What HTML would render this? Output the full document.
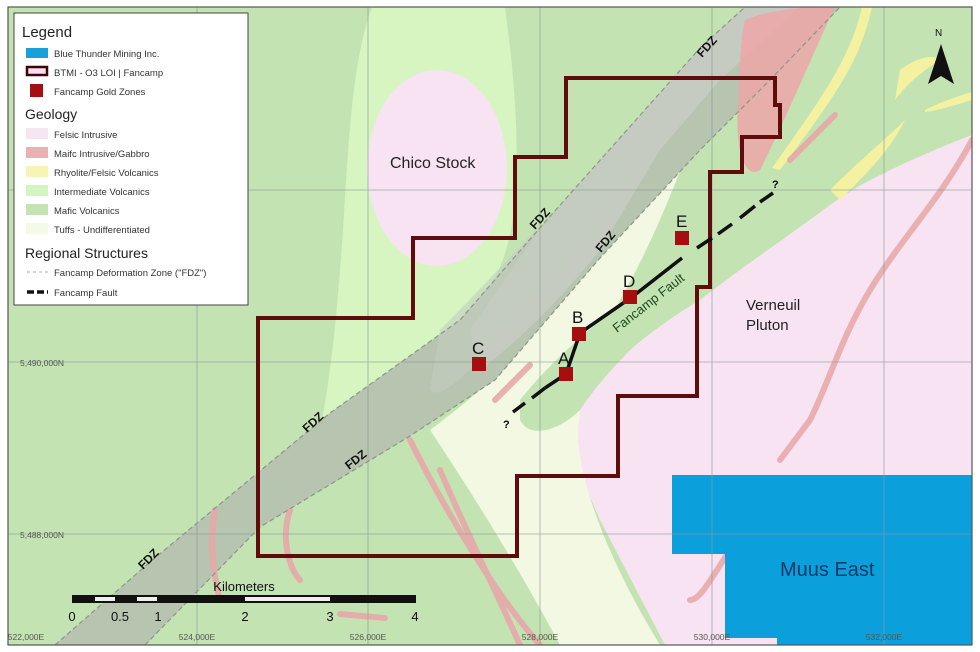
<!DOCTYPE html>
<html><head><meta charset="utf-8"><style>
html,body{margin:0;padding:0;background:#fff;}
svg{display:block;font-family:"Liberation Sans",sans-serif;}
</style></head><body>
<svg width="980" height="652" viewBox="0 0 980 652" xmlns="http://www.w3.org/2000/svg">
<defs><clipPath id="c"><rect x="8" y="7" width="964" height="638"/></clipPath></defs>
<rect width="980" height="652" fill="#fff"/>
<g clip-path="url(#c)">
<rect x="8" y="7" width="964" height="638" fill="#c4e3b3"/>
<!-- intermediate volcanics light green around Chico -->
<path d="M372,7 C352,60 348,150 343,230 C338,300 333,360 322,420 L315,450 C360,420 410,370 450,335 C490,300 510,260 515,200 C520,130 512,60 505,7 Z" fill="#d6f5c0"/>
<!-- Chico stock -->
<ellipse cx="437" cy="168" rx="70" ry="98" fill="#f8e3f2"/>
<!-- Verneuil pluton pink -->
<path d="M972,128 C930,150 880,170 830,205 C790,235 745,265 700,300 C650,330 600,370 578,410 C568,440 578,470 600,520 L665,645 L972,645 Z" fill="#f8e3f2"/>
<!-- tuffs pale -->
<path d="M430,430 C470,400 520,360 560,300 C600,240 640,170 690,60 L720,40 C700,130 660,230 620,300 C590,360 578,400 578,440 C583,500 620,580 660,645 L560,645 C520,570 470,490 430,430 Z" fill="#f2f8e2"/>
<!-- gray FDZ band -->
<path d="M55,645 L150,562 L330,413 L460,320 L545,222 L700,48 L745,7 L840,7 L770,80 L700,150 L600,258 L495,380 L410,436 L260,527 L145,645 Z" fill="#b6c4b0"/>
<path d="M700,48 L745,7 L800,7 L720,80 L660,150 L600,250 C560,300 520,340 480,370 L470,330 L545,222 Z" fill="#c8cdc4" opacity="0.85"/>
<path d="M440,330 C500,270 560,200 620,150 L640,170 C590,240 540,300 490,350 C460,380 440,400 430,390 Z" fill="#c3cdc0" opacity="0.6"/>
<!-- mafic green strip with fault -->
<path d="M520,400 C560,350 620,300 700,250 C770,210 850,170 972,120 L972,135 C880,170 800,215 740,260 C680,305 620,350 580,410 C560,430 530,440 520,420 Z" fill="#c4e3b3"/>
<!-- NE gabbro reddish -->
<path d="M745,20 C770,10 800,7 835,7 C810,60 790,110 760,170 C745,180 735,150 738,110 C740,70 740,40 745,20 Z" fill="#eaa8a8" opacity="0.9"/>
<!-- yellow rhyolite strips -->
<path d="M862,7 L872,7 C860,60 840,90 780,170 L772,168 C820,100 850,60 862,7 Z" fill="#f4f1a0"/>
<path d="M900,70 C920,55 935,55 940,60 C925,70 910,80 895,100 Z" fill="#f4f1a0"/>
<path d="M925,110 C945,100 962,95 972,92 L972,100 C955,105 940,110 925,112 Z" fill="#f4f1a0"/>
<path d="M830,190 C860,160 885,140 905,120 C890,150 870,170 840,200 Z" fill="#f4f1a0"/>
<!-- pink gabbro thin strips -->
<g fill="none" stroke="#e7a9aa" stroke-width="6" stroke-linecap="round" opacity="0.9">
<path d="M790,160 L835,115"/>
<path d="M972,140 C940,200 900,240 870,290 C840,340 830,380 810,420 L780,460"/>
<path d="M730,550 C710,580 700,600 690,600"/>
<path d="M495,400 L530,365"/>
<path d="M410,440 C450,520 500,600 540,645"/>
<path d="M440,470 C470,540 500,600 520,645"/>
<path d="M290,510 C280,540 290,570 300,580"/>
<path d="M215,510 C210,540 212,570 220,600"/>
<path d="M340,614 L385,618"/>
</g>
<!-- blue Muus East -->
<path d="M672,475 L972,475 L972,645 L777,645 L777,638 L725,638 L725,554 L672,554 Z" fill="#0ba0dc"/>
<!-- grid -->
<g stroke="#8d9a96" stroke-width="0.8" opacity="0.8">
<line x1="197" y1="0" x2="197" y2="652"/><line x1="368" y1="0" x2="368" y2="652"/>
<line x1="540" y1="0" x2="540" y2="652"/><line x1="712" y1="0" x2="712" y2="652"/>
<line x1="884" y1="0" x2="884" y2="652"/>
<line x1="0" y1="190" x2="980" y2="190"/><line x1="0" y1="362" x2="980" y2="362"/>
<line x1="0" y1="534" x2="980" y2="534"/>
</g>
<!-- FDZ dashed -->
<g fill="none" stroke="#8b978a" stroke-width="1.2" stroke-dasharray="5,3">
<path d="M55,645 L150,562 L330,413 L460,320 L545,222 L700,48 L745,7"/>
<path d="M145,645 L260,527 L410,436 L495,380 L600,258 L700,150 L770,80 L840,7"/>
</g>
<!-- property boundary -->
<path d="M258,318 L413,318 L413,238 L515,238 L515,157 L566,157 L566,78 L775,78 L775,105 L780,105 L780,137 L742,137 L742,172 L710,172 L710,287 L697,287 L697,396 L618,396 L618,476 L517,476 L517,556 L258,556 Z" fill="none" stroke="#5e0c0c" stroke-width="4"/>
<!-- fault -->
<g stroke="#111" stroke-width="3.5" fill="none">
<path d="M513,412 L525,403 M532,398 L545,388" />
<path d="M545,388 L566,374 L580,333 L632,297 L682,258"/>
<path d="M697,248 L712,238 M718,234 L732,224 M740,218 L755,206 M760,202 L773,193"/>
</g>
<!-- zones -->
<g fill="#a50f10">
<rect x="472" y="357" width="14" height="14"/>
<rect x="559" y="367" width="14" height="14"/>
<rect x="572" y="327" width="14" height="14"/>
<rect x="623" y="290" width="14" height="14"/>
<rect x="675" y="231" width="14" height="14"/>
</g>
<g font-size="17" fill="#111">
<text x="472" y="354">C</text><text x="558" y="364">A</text><text x="572" y="323">B</text>
<text x="623" y="287">D</text><text x="676" y="227">E</text>
</g>
<text x="503" y="428" font-size="11" font-weight="bold">?</text>
<text x="772" y="188" font-size="11" font-weight="bold">?</text>
<text transform="translate(617,333) rotate(-38)" font-size="13" fill="#1e4a1e">Fancamp Fault</text>
<!-- FDZ labels -->
<g font-size="12" font-weight="bold" fill="#111">
<text transform="translate(143,570) rotate(-45)">FDZ</text>
<text transform="translate(307,433) rotate(-42)">FDZ</text>
<text transform="translate(349,470) rotate(-38)">FDZ</text>
<text transform="translate(535,230) rotate(-48)">FDZ</text>
<text transform="translate(601,253) rotate(-50)">FDZ</text>
<text transform="translate(702,58) rotate(-48)">FDZ</text>
</g>
<text x="390" y="168" font-size="16" fill="#222">Chico Stock</text>
<text x="746" y="310" font-size="15" fill="#222">Verneuil</text>
<text x="746" y="330" font-size="15" fill="#222">Pluton</text>
<text x="780" y="576" font-size="20" fill="#0c3a66">Muus East</text>
<!-- north arrow -->
<text x="935" y="36" font-size="10" fill="#111">N</text>
<path d="M941,44 L928,84 L941,76 L954,84 Z" fill="#111"/>
<!-- scale bar -->
<text x="244" y="591" font-size="13" text-anchor="middle" fill="#111">Kilometers</text>
<rect x="72" y="595" width="344" height="8" fill="#111"/>
<rect x="95" y="597" width="20" height="4" fill="#eee"/>
<rect x="137" y="597" width="20" height="4" fill="#eee"/>
<rect x="245" y="597" width="85" height="4" fill="#eee"/>
<g font-size="13" fill="#111" text-anchor="middle">
<text x="72" y="621">0</text><text x="120" y="621">0.5</text><text x="158" y="621">1</text>
<text x="245" y="621">2</text><text x="330" y="621">3</text><text x="415" y="621">4</text>
</g>
<g font-size="8.5" fill="#555" text-anchor="middle">
<text x="26" y="640">522,000E</text><text x="197" y="640">524,000E</text><text x="368" y="640">526,000E</text>
<text x="540" y="640">528,000E</text><text x="712" y="640">530,000E</text><text x="884" y="640">532,000E</text>
<text x="42" y="366">5,490,000N</text><text x="42" y="538">5,488,000N</text>
</g>
</g>
<rect x="8" y="7" width="964" height="638" fill="none" stroke="#555" stroke-width="1.2"/>
<!-- legend -->
<rect x="14" y="13" width="234" height="292" fill="#fff" stroke="#444" stroke-width="1"/>
<g font-size="9.5" fill="#333">
<text x="22" y="37" font-size="15" fill="#222">Legend</text>
<rect x="26" y="48" width="22" height="10" fill="#1aa0d8"/><text x="54" y="57">Blue Thunder Mining Inc.</text>
<rect x="27" y="67" width="20" height="8" fill="#fde" stroke="#3a0606" stroke-width="2.5"/><text x="54" y="76">BTMI - O3 LOI | Fancamp</text>
<rect x="30" y="84" width="13" height="13" fill="#a50f10"/><text x="54" y="95">Fancamp Gold Zones</text>
<text x="25" y="119" font-size="14" fill="#222">Geology</text>
<rect x="26" y="128" width="22" height="11" fill="#f6e6f1"/><text x="54" y="138">Felsic Intrusive</text>
<rect x="26" y="147" width="22" height="11" fill="#e9b2b2"/><text x="54" y="157">Maifc Intrusive/Gabbro</text>
<rect x="26" y="166" width="22" height="11" fill="#f8f4b8"/><text x="54" y="176">Rhyolite/Felsic Volcanics</text>
<rect x="26" y="185" width="22" height="11" fill="#d3f5c0"/><text x="54" y="195">Intermediate Volcanics</text>
<rect x="26" y="204" width="22" height="11" fill="#c4e3b3"/><text x="54" y="214">Mafic Volcanics</text>
<rect x="26" y="223" width="22" height="11" fill="#f5f9e8"/><text x="54" y="233">Tuffs - Undifferentiated</text>
<text x="25" y="258" font-size="14" fill="#222">Regional Structures</text>
<line x1="27" y1="272" x2="48" y2="272" stroke="#aaa" stroke-dasharray="3,3"/><text x="54" y="276">Fancamp Deformation Zone ("FDZ")</text>
<line x1="27" y1="292" x2="48" y2="292" stroke="#111" stroke-width="3.5" stroke-dasharray="7,3"/><text x="54" y="296">Fancamp Fault</text>
</g>
</svg>
</body></html>
